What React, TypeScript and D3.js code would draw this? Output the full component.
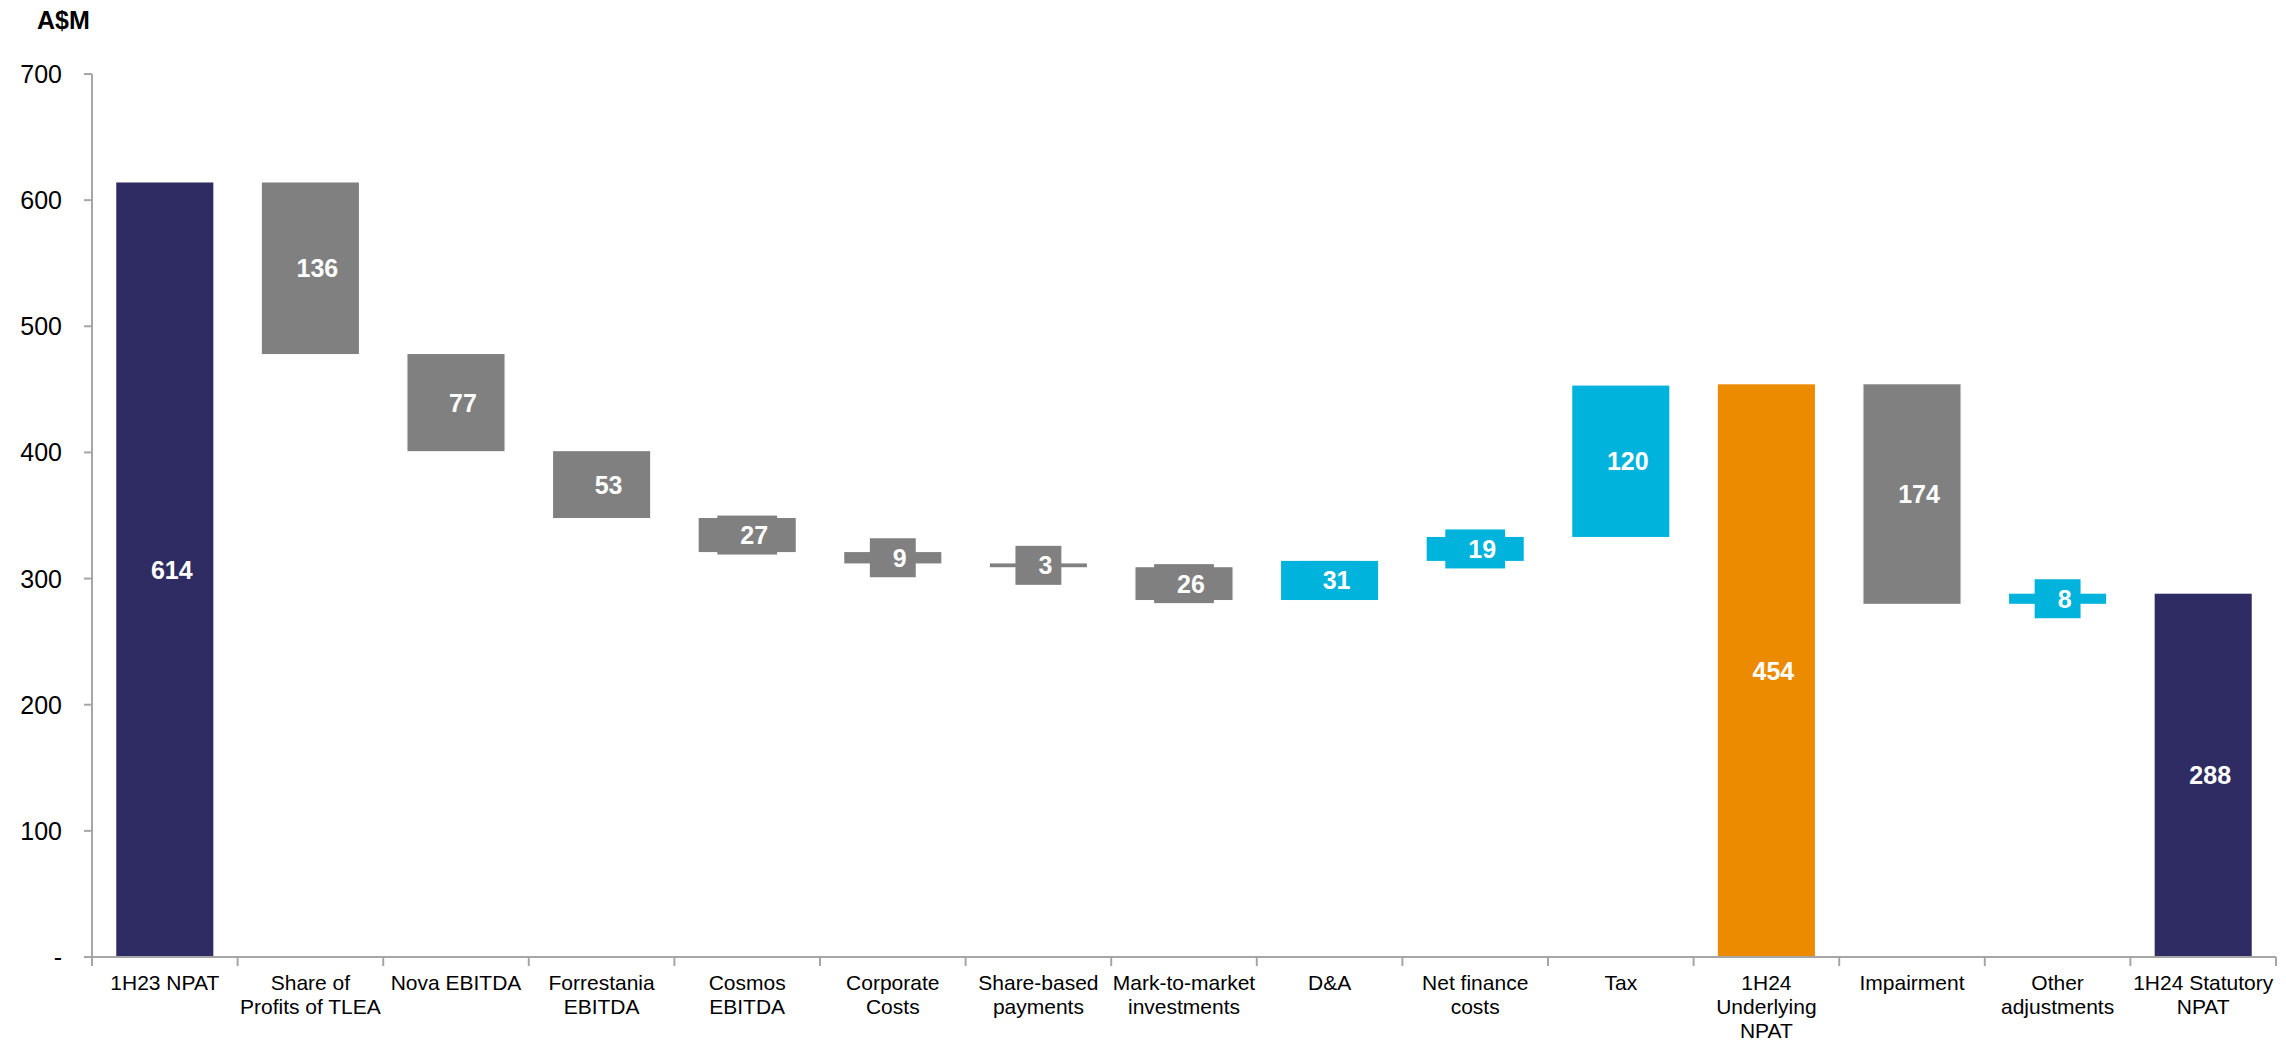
import React, { useEffect, useRef } from 'react';
import * as d3 from 'd3';

// waterfall data (A$M)
const categories = [
  '1H23 NPAT',
  'Share of\nProfits of TLEA',
  'Nova EBITDA',
  'Forrestania\nEBITDA',
  'Cosmos\nEBITDA',
  'Corporate\nCosts',
  'Share-based\npayments',
  'Mark-to-market\ninvestments',
  'D&A',
  'Net finance\ncosts',
  'Tax',
  '1H24\nUnderlying\nNPAT',
  'Impairment',
  'Other\nadjustments',
  '1H24 Statutory\nNPAT',
];
// change for each step; totals are null
const deltas = [null, -136, -77, -53, -27, -9, -3, -26, 31, 19, 120, null, -174, 8, null];
// values of the total bars
const totals = [614, null, null, null, null, null, null, null, null, null, null, 454, null, null, 288];
const kinds = ['start', 'neg', 'neg', 'neg', 'neg', 'neg', 'neg', 'neg', 'pos', 'pos', 'pos', 'sub', 'neg', 'pos', 'start'];
const yTicks = [0, 100, 200, 300, 400, 500, 600, 700];

const colors: Record<string, string> = {
  start: '#2e2c62',
  neg: '#808080',
  pos: '#00b3dd',
  sub: '#ec8a00',
};

export default function App() {
  const svgRef = useRef<SVGSVGElement>(null);

  useEffect(() => {
    if (!svgRef.current) return;
    const svg = d3.select(svgRef.current);
    svg.selectAll('*').remove();

    const width = 2286;
    const height = 1042;
    const left = 92;
    const right = 2276;
    const top = 74;
    const bottom = 957;
    const font = '"Liberation Sans", Arial, sans-serif';

    svg.attr('width', width).attr('height', height);

    const x = d3.scaleBand().domain(categories).range([left, right]).paddingInner(1 / 3).paddingOuter(1 / 6);
    const y = d3.scaleLinear().domain([0, 700]).range([bottom, top]);

    // build the floating segments
    let running = 0;
    const bars = categories.map((c, i) => {
      if (totals[i] !== null) {
        running = totals[i] as number;
        return { c, kind: kinds[i], lo: 0, hi: running, label: String(totals[i]) };
      }
      const d = deltas[i] as number;
      const from = running;
      running += d;
      return { c, kind: kinds[i], lo: Math.min(from, running), hi: Math.max(from, running), label: String(Math.abs(d)) };
    });

    const axisColor = '#a6a6a6';

    // y axis
    svg.append('line')
      .attr('x1', left).attr('x2', left)
      .attr('y1', y(700)).attr('y2', bottom)
      .attr('stroke', axisColor).attr('stroke-width', 2);

    yTicks.forEach((t) => {
      svg.append('line')
        .attr('x1', left - 8).attr('x2', left)
        .attr('y1', y(t)).attr('y2', y(t))
        .attr('stroke', axisColor).attr('stroke-width', 2);
      svg.append('text')
        .attr('x', 62)
        .attr('y', y(t))
        .attr('text-anchor', 'end')
        .attr('dominant-baseline', 'central')
        .attr('font-family', font)
        .attr('font-size', '25px')
        .attr('fill', '#000')
        .text(t === 0 ? '-' : String(t));
    });

    // unit label
    svg.append('text')
      .attr('x', 37).attr('y', 29)
      .attr('font-family', font)
      .attr('font-size', '25px')
      .attr('font-weight', 'bold')
      .attr('fill', '#000')
      .text('A$M');

    // bars
    bars.forEach((b) => {
      const bx = x(b.c)!;
      const bw = x.bandwidth();
      const fill = colors[b.kind];
      const y0 = y(b.hi);
      const y1 = y(b.lo);

      svg.append('rect')
        .attr('x', bx).attr('y', y0)
        .attr('width', bw).attr('height', y1 - y0)
        .attr('fill', fill);

      // label box behind the value, visible on thin bars
      const cy = (y0 + y1) / 2;
      const boxW = b.label.length * 13.9 + 32;
      const boxH = 39;
      svg.append('rect')
        .attr('x', bx + bw / 2 - boxW / 2)
        .attr('y', cy - boxH / 2)
        .attr('width', boxW).attr('height', boxH)
        .attr('fill', fill);

      svg.append('text')
        .attr('x', bx + bw / 2 + 7)
        .attr('y', cy)
        .attr('text-anchor', 'middle')
        .attr('dominant-baseline', 'central')
        .attr('font-family', font)
        .attr('font-size', '25px')
        .attr('font-weight', 'bold')
        .attr('fill', '#fff')
        .text(b.label);
    });

    // x axis
    svg.append('line')
      .attr('x1', left).attr('x2', right)
      .attr('y1', bottom).attr('y2', bottom)
      .attr('stroke', axisColor).attr('stroke-width', 2);

    const step = x.step();
    d3.range(categories.length + 1).forEach((i) => {
      const tx = left + i * step;
      svg.append('line')
        .attr('x1', tx).attr('x2', tx)
        .attr('y1', bottom).attr('y2', bottom + 9)
        .attr('stroke', axisColor).attr('stroke-width', 2);
    });

    categories.forEach((c) => {
      const cx = x(c)! + x.bandwidth() / 2;
      const t = svg.append('text')
        .attr('text-anchor', 'middle')
        .attr('font-family', font)
        .attr('font-size', '21px')
        .attr('fill', '#000');
      c.split('\n').forEach((line, li) => {
        t.append('tspan')
          .attr('x', cx)
          .attr('y', 990 + li * 24)
          .text(line);
      });
    });
  }, []);

  return (
    <div style={{ position: 'absolute', left: 0, top: 0, background: '#fff' }}>
      <svg ref={svgRef} style={{ display: 'block' }}></svg>
    </div>
  );
}
